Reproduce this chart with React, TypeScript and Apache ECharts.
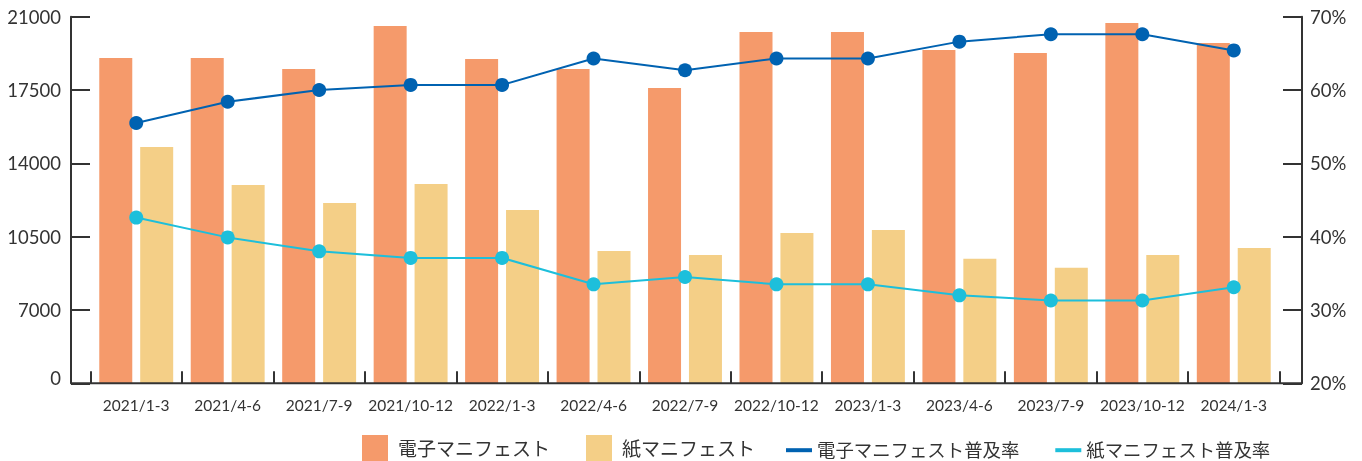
import React, { useEffect, useRef } from "react";
import * as echarts from "echarts";

const categories = [
  "2021/1-3", "2021/4-6", "2021/7-9", "2021/10-12",
  "2022/1-3", "2022/4-6", "2022/7-9", "2022/10-12",
  "2023/1-3", "2023/4-6", "2023/7-9", "2023/10-12", "2024/1-3",
];
const electronic = [19030, 19030, 18500, 20560, 18980, 18500, 17600, 20270, 20270, 19410, 19270, 20700, 19740];
const paper = [14780, 12970, 12110, 13010, 11770, 9820, 9630, 10680, 10820, 9440, 9010, 9630, 9960];
const electronicRate = [55.5, 58.4, 60.0, 60.7, 60.7, 64.3, 62.7, 64.3, 64.3, 66.6, 67.6, 67.6, 65.4];
const paperRate = [42.6, 39.9, 38.0, 37.1, 37.1, 33.5, 34.5, 33.5, 33.5, 32.0, 31.3, 31.3, 33.1];
const leftTicks = [3500, 7000, 10500, 14000, 17500, 21000];
const leftTickLabels = ["0", "7000", "10500", "14000", "17500", "21000"];

const names = ["電子マニフェスト", "紙マニフェスト", "電子マニフェスト普及率", "紙マニフェスト普及率"];
const colors = ["#F59A6B", "#F4CF87", "#0062B1", "#1DBFDB"];

const FONT = 'Lato, "Noto Sans CJK JP", sans-serif';
const AXIS = "#333333";

export default function App() {
  const ref = useRef<HTMLDivElement>(null);
  useEffect(() => {
    if (!ref.current) return;
    const chart = echarts.init(ref.current, undefined, { renderer: "svg" });
    const gridLeft = 90.5;
    const gridRight = 82.5;
    const gridTop = 16.7;
    const gridBottom = 461 - 383.3;
    chart.setOption({
      animation: false,
      textStyle: { fontFamily: FONT },
      grid: { left: gridLeft, right: gridRight, top: gridTop, bottom: gridBottom, containLabel: false },
      legend: [
        {
          data: [names[0], names[1]],
          left: 362,
          top: 435,
          padding: 0,
          itemWidth: 26,
          itemHeight: 26,
          itemGap: 36,
          icon: "rect",
          textStyle: { fontSize: 19, color: AXIS, fontFamily: FONT, padding: [0, 0, 0, 5] },
        },
        {
          data: [names[2], names[3]],
          left: 786,
          top: 441,
          padding: 0,
          itemWidth: 26,
          itemHeight: 4,
          itemGap: 36,
          icon: "rect",
          textStyle: { fontSize: 18.4, color: AXIS, fontFamily: FONT },
        },
      ],
      xAxis: {
        type: "category",
        data: categories,
        axisLine: { show: false },
        axisTick: { show: true, inside: true, length: 12, lineStyle: { color: AXIS, width: 2 } },
        axisLabel: { color: AXIS, fontSize: 15.5, margin: 14, fontFamily: FONT, interval: 0 },
        splitLine: { show: false },
      },
      yAxis: [
        {
          type: "value",
          min: 3500,
          max: 21000,
          interval: 3500,
          offset: gridLeft - 71,
          axisLine: { show: true, lineStyle: { color: AXIS, width: 2 } },
          axisTick: { show: true, inside: true, length: 19, lineStyle: { color: AXIS, width: 2 } },
          axisLabel: {
            color: AXIS,
            fontSize: 18.5,
            margin: 10,
            fontFamily: FONT,
            formatter: (v: number) => {
              const i = leftTicks.indexOf(v);
              const s = i >= 0 ? leftTickLabels[i] : String(v);
              return i === 0 ? "{z|" + s + "}" : s;
            },
            rich: {
              z: { fontSize: 18.5, color: AXIS, fontFamily: FONT, padding: [0, 0, 10, 0] },
            },
          },
          splitLine: { show: false },
        },
        {
          type: "value",
          min: 20,
          max: 70,
          interval: 10,
          offset: 1302 - (1362 - gridRight),
          axisLine: { show: true, lineStyle: { color: AXIS, width: 2 } },
          axisTick: { show: true, inside: true, length: 19, lineStyle: { color: AXIS, width: 2 } },
          axisLabel: { color: AXIS, fontSize: 18.5, margin: 8, fontFamily: FONT, formatter: "{value}%" },
          splitLine: { show: false },
        },
      ],
      graphic: [
        {
          type: "line",
          shape: { x1: 71, y1: 383.3, x2: 1302, y2: 383.3 },
          style: { stroke: AXIS, lineWidth: 2 },
          z: 10,
        },
      ],
      series: [
        {
          name: names[0],
          type: "bar",
          data: electronic,
          barWidth: 33,
          barGap: "24%",
          itemStyle: { color: colors[0] },
          yAxisIndex: 0,
        },
        {
          name: names[1],
          type: "bar",
          data: paper,
          barWidth: 33,
          barGap: "24%",
          itemStyle: { color: colors[1] },
          yAxisIndex: 0,
        },
        {
          name: names[2],
          type: "line",
          data: electronicRate,
          yAxisIndex: 1,
          symbol: "circle",
          symbolSize: 14,
          lineStyle: { color: colors[2], width: 2 },
          itemStyle: { color: colors[2] },
          z: 5,
        },
        {
          name: names[3],
          type: "line",
          data: paperRate,
          yAxisIndex: 1,
          symbol: "circle",
          symbolSize: 14,
          lineStyle: { color: colors[3], width: 2 },
          itemStyle: { color: colors[3] },
          z: 5,
        },
      ],
    });
    return () => chart.dispose();
  }, []);
  return (
    <div
      ref={ref}
      style={{ position: "fixed", left: 0, top: 0, width: 1362, height: 461 }}
    />
  );
}
